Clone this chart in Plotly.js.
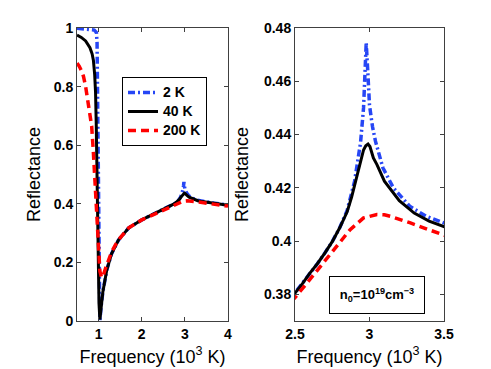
<!DOCTYPE html>
<html>
<head>
<meta charset="utf-8">
<script src="https://cdn.plot.ly/plotly-3.0.1.min.js"></script>
<style>html,body{margin:0;padding:0;background:#fff;}#chart{width:491px;height:369px;}</style>
</head>
<body>
<div id="chart"></div>
<script>
// Frequency in units of 10^3 K, reflectance
const freq2K = [0.5, 0.6, 0.7, 0.8, 0.9, 0.95, 0.965, 0.975, 0.985, 0.995, 1.01, 1.03, 1.06, 1.1, 1.19, 1.3, 1.46, 1.7, 2.0, 2.3, 2.5, 2.55, 2.6, 2.65, 2.7, 2.75, 2.8, 2.85, 2.9, 2.94, 2.96, 2.97, 2.978, 2.99, 3.0, 3.02, 3.04, 3.09, 3.16, 3.27, 3.38, 3.5, 3.7, 4.0];
const refl2K = [0.999, 0.998, 0.997, 0.996, 0.993, 0.985, 0.95, 0.8, 0.6, 0.4, 0.2, 0.0, 0.05, 0.1, 0.174, 0.229, 0.276, 0.318, 0.345, 0.366, 0.3805, 0.384, 0.388, 0.3915, 0.3955, 0.3998, 0.405, 0.4115, 0.4225, 0.437, 0.45, 0.462, 0.4745, 0.462, 0.451, 0.443, 0.4375, 0.4275, 0.42, 0.4131, 0.4093, 0.4068, 0.4015, 0.396];

const freq40K = [0.5, 0.6, 0.7, 0.8, 0.85, 0.88, 0.91, 0.93, 0.945, 0.957, 0.97, 0.98, 0.995, 1.01, 1.03, 1.06, 1.1, 1.19, 1.3, 1.46, 1.7, 2.0, 2.3, 2.5, 2.55, 2.6, 2.65, 2.7, 2.75, 2.8, 2.85, 2.88, 2.9, 2.92, 2.94, 2.96, 2.975, 2.99, 3.003, 3.026, 3.05, 3.1, 3.2, 3.3, 3.4, 3.5, 3.7, 4.0];
const refl40K = [0.976, 0.968, 0.956, 0.933, 0.912, 0.89, 0.84, 0.78, 0.68, 0.556, 0.44, 0.33, 0.15, 0.06, 0.005, 0.05, 0.1, 0.174, 0.229, 0.276, 0.318, 0.345, 0.366, 0.3805, 0.384, 0.388, 0.3915, 0.3955, 0.3998, 0.405, 0.411, 0.4165, 0.4212, 0.4255, 0.43, 0.4342, 0.4358, 0.4364, 0.4355, 0.4312, 0.4287, 0.4225, 0.4152, 0.4105, 0.4075, 0.4055, 0.401, 0.395];

const freq200K = [0.5, 0.55, 0.6, 0.65, 0.7, 0.76, 0.8, 0.84, 0.88, 0.92, 0.95, 0.975, 1.0, 1.03, 1.07, 1.1, 1.15, 1.22, 1.3, 1.4, 1.5, 1.7, 2.0, 2.3, 2.5, 2.6, 2.69, 2.78, 2.87, 2.96, 3.05, 3.1, 3.14, 3.27, 3.4, 3.5, 3.7, 4.0];
const refl200K = [0.88, 0.87, 0.855, 0.835, 0.80, 0.748, 0.71, 0.665, 0.575, 0.47, 0.37, 0.28, 0.21, 0.17, 0.148, 0.152, 0.175, 0.207, 0.235, 0.262, 0.284, 0.318, 0.345, 0.365, 0.3788, 0.3856, 0.3919, 0.3981, 0.4043, 0.4087, 0.41, 0.4099, 0.4093, 0.4069, 0.4043, 0.4022, 0.3975, 0.392];

const seriesNames = ['2 K', '40 K', '200 K'];
const leftXTicks = [1, 2, 3, 4];
const leftYTicks = [0, 0.2, 0.4, 0.6, 0.8, 1];
const rightXTicks = [2.5, 3, 3.5];
const rightYTicks = [0.38, 0.4, 0.42, 0.44, 0.46, 0.48];
const xTitle = 'Frequency (10<sup>3</sup> K)';
const yTitle = 'Reflectance';
const noteText = '<b>n<sub>0</sub>=10<sup>19</sup>cm<sup>\u22123</sup></b>';

const FONT = 'Liberation Sans, Arial, Helvetica, sans-serif';
const styles = [
  {color: '#2646f5', width: 3.5, dash: '7px,3px,2px,3px'},
  {color: '#000000', width: 3, dash: 'solid'},
  {color: '#ff0000', width: 3.5, dash: '8px,5px'}
];
const xs = [freq2K, freq40K, freq200K];
const ys = [refl2K, refl40K, refl200K];

const traces = [];
for (let i = 0; i < 3; i++) {
  traces.push({x: xs[i], y: ys[i], name: '<span style="font-size:14px">' + seriesNames[i] + '</span>', mode: 'lines', line: styles[i], xaxis: 'x', yaxis: 'y', showlegend: true});
}
for (let i = 0; i < 3; i++) {
  traces.push({x: xs[i], y: ys[i], name: seriesNames[i], mode: 'lines', line: styles[i], xaxis: 'x2', yaxis: 'y2', showlegend: false});
}

const W = 491, H = 369;
function axisCommon() {
  return {
    showline: true, linecolor: '#404040', linewidth: 1, mirror: 'ticks',
    ticks: 'inside', ticklen: 4, tickwidth: 1, tickcolor: '#404040',
    showgrid: false, zeroline: false,
    tickfont: {family: FONT, size: 14, color: '#000', weight: 'bold'},
    fixedrange: true
  };
}
const yDomain = [1 - 321 / H, 1 - 28 / H];

const layout = {
  width: W, height: H,
  margin: {l: 0, r: 0, t: 0, b: 0},
  paper_bgcolor: '#fff', plot_bgcolor: '#fff',
  font: {family: FONT, color: '#000'},
  showlegend: true,
  legend: {
    x: 122 / W, y: 1 - 77 / H, xanchor: 'left', yanchor: 'top',
    bgcolor: '#fff', bordercolor: '#000', borderwidth: 1,
    font: {family: FONT, size: 11, color: '#000', weight: 'bold'},
    tracegroupgap: 0
  },
  xaxis: Object.assign(axisCommon(), {
    domain: [77 / W, 228 / W], range: [0.5, 4], tickvals: leftXTicks, anchor: 'y',
    title: {text: xTitle, font: {family: FONT, size: 18, color: '#000'}, standoff: 9}
  }),
  yaxis: Object.assign(axisCommon(), {
    domain: yDomain, range: [0, 1], tickvals: leftYTicks, anchor: 'x',
    title: {text: yTitle, font: {family: FONT, size: 18, color: '#000'}, standoff: 8}
  }),
  xaxis2: Object.assign(axisCommon(), {
    domain: [295 / W, 444 / W], range: [2.5, 3.5], tickvals: rightXTicks, anchor: 'y2',
    title: {text: xTitle, font: {family: FONT, size: 18, color: '#000'}, standoff: 9}
  }),
  yaxis2: Object.assign(axisCommon(), {
    domain: yDomain, range: [0.37, 0.48], tickvals: rightYTicks, anchor: 'x2',
    title: {text: yTitle, font: {family: FONT, size: 18, color: '#000'}, standoff: 10}
  }),
  annotations: [{
    text: noteText, xref: 'paper', yref: 'paper',
    x: 377 / W, y: 1 - 295 / H, xanchor: 'center', yanchor: 'middle',
    showarrow: false, font: {family: FONT, size: 13, color: '#000'},
    bordercolor: '#000', borderwidth: 1, borderpad: 1, bgcolor: '#fff',
    width: 92, height: 34
  }]
};

Plotly.newPlot('chart', traces, layout, {staticPlot: true, displayModeBar: false});
</script>
</body>
</html>
